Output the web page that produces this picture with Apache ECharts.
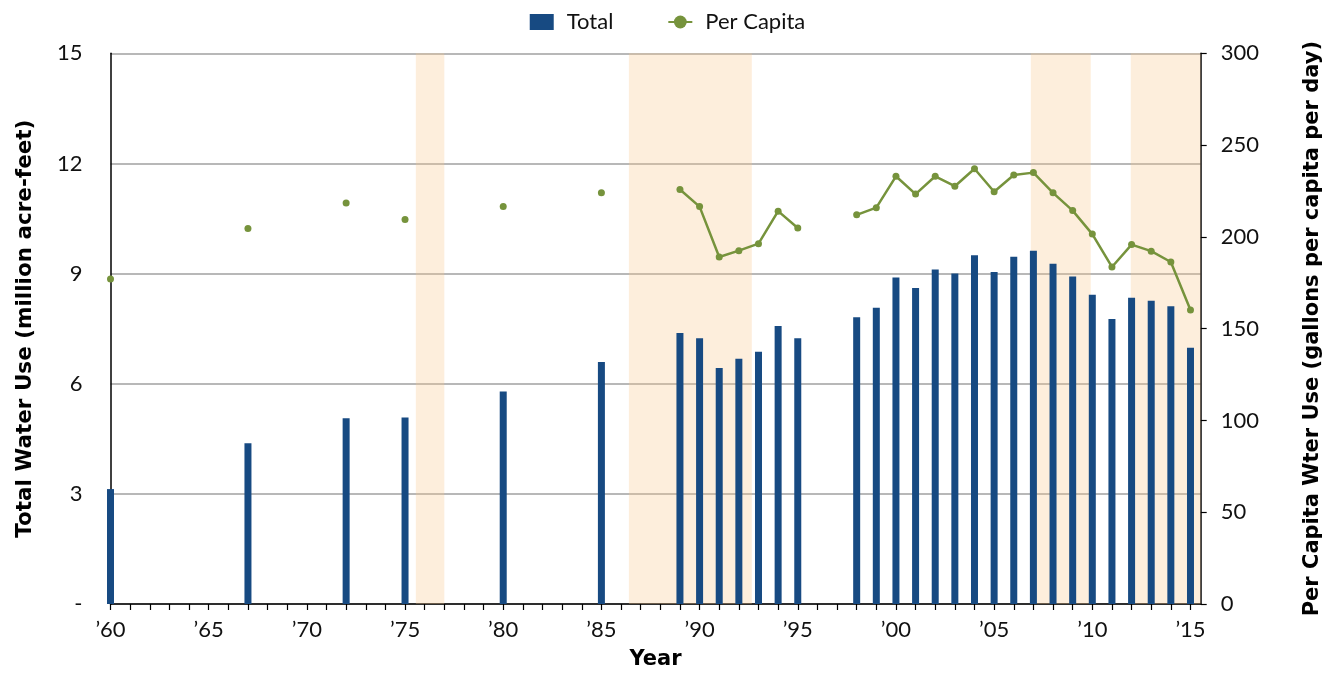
<!DOCTYPE html>
<html>
<head>
<meta charset="utf-8">
<script src="https://cdn.jsdelivr.net/npm/echarts@6/dist/echarts.min.js"></script>
<style>html,body{margin:0;padding:0;background:#fff;overflow:hidden;}#c{width:100vw;height:100vh;}</style>
</head>
<body>
<div id="c"></div>
<script>
// Years with data
const totalYears = [1960,1967,1972,1975,1980,1985,1989,1990,1991,1992,1993,1994,1995,1998,1999,2000,2001,2002,2003,2004,2005,2006,2007,2008,2009,2010,2011,2012,2013,2014,2015];
// Total water use (million acre-feet)
const totalValues = [3.13,4.38,5.06,5.08,5.79,6.59,7.38,7.24,6.43,6.68,6.87,7.57,7.24,7.81,8.07,8.89,8.61,9.11,9.00,9.50,9.04,9.46,9.62,9.27,8.92,8.42,7.76,8.34,8.26,8.11,6.98];
// Per capita water use (gallons per capita per day)
const perCapitaValues = [177,204.5,218.5,209.5,216.5,224,225.8,216.5,189,192.5,196.3,214,204.8,212,215.9,233,223.3,233,227.6,237.1,224.6,233.7,235,224,214.3,201.5,183.6,195.8,192.2,186.3,160.2];
// Drought periods (shaded)
const droughts = [[1975.55,1977],[1986.4,1992.66],[2006.87,2009.92],[2011.96,2015.52]];
const xMin = 1960, xMax = 2015.52;

const FONT = 'Lato';
const TITLE_FONT = 'DejaVu Sans';
const barData = totalYears.map((y,i)=>[y,totalValues[i]]);
const lineData = [];
for (let y = 1960; y <= 2015; y++) {
  const i = totalYears.indexOf(y);
  lineData.push(i >= 0 ? [y, perCapitaValues[i]] : [y, '-']);
}

const chart = echarts.init(document.getElementById('c'), null, {renderer:'canvas'});
chart.setOption({
  backgroundColor:'#fff',
  animation:false,
  textStyle:{fontFamily:FONT},
  legend:{
    top:6, left:'center', itemGap:54, itemWidth:24, itemHeight:16,
    textStyle:{fontFamily:FONT,fontSize:22,color:'#111',padding:[0,0,0,8]},
    data:[{name:'Total',icon:'rect'},{name:'Per Capita'}]
  },
  grid:{left:110.5,right:134.3,top:53.3,bottom:62,containLabel:false},
  xAxis:{
    type:'value', min:xMin, max:xMax, interval:1,
    name:'Year', nameLocation:'middle', nameGap:45,
    nameTextStyle:{fontFamily:TITLE_FONT,fontWeight:'bold',fontSize:21,color:'#000'},
    axisLine:{lineStyle:{color:'#000',width:1.5}},
    axisTick:{show:true,length:6,lineStyle:{color:'#000',width:1.2}},
    axisLabel:{fontFamily:FONT,fontSize:22,color:'#111',margin:15,showMaxLabel:false,
      formatter:v=> (Math.abs(v%5)<1e-6) ? '\u2019'+String(Math.round(v)).slice(2) : ''},
    splitLine:{show:false}
  },
  yAxis:[{
    type:'value', min:0, max:15, interval:3, position:'left',
    name:'Total Water Use (million acre-feet)', nameLocation:'middle', nameGap:74,
    nameTextStyle:{fontFamily:TITLE_FONT,fontWeight:'bold',fontSize:21.5,color:'#000'},
    axisLine:{show:true,lineStyle:{color:'#000',width:1.5}},
    axisTick:{show:false},
    axisLabel:{fontFamily:FONT,fontSize:22,color:'#111',margin:28,formatter:v=> v===0?'-':String(v)},
    splitLine:{show:true,lineStyle:{color:'#a0a0a0',width:1.5}}
  },{
    type:'value', min:0, max:300, interval:50, position:'right',
    name:'Per Capita Wter Use (gallons per capita per day)', nameLocation:'middle', nameGap:101,
    nameRotate:90,
    nameTextStyle:{fontFamily:TITLE_FONT,fontWeight:'bold',fontSize:21,color:'#000'},
    axisLine:{show:true,lineStyle:{color:'#000',width:1.5}},
    axisTick:{show:true,length:6,lineStyle:{color:'#000',width:1.2}},
    axisLabel:{fontFamily:FONT,fontSize:22,color:'#111',margin:20},
    splitLine:{show:false}
  }],
  series:[{
    name:'drought', type:'line', data:[], silent:true,
    markArea:{silent:true,itemStyle:{color:'rgba(249,200,140,0.3)'},
      data:droughts.map(d=>[{xAxis:d[0]},{xAxis:d[1]}])}
  },{
    name:'Total', type:'bar', yAxisIndex:0, data:barData, barWidth:7,
    itemStyle:{color:'#174a82'}, z:3
  },{
    name:'Per Capita', type:'line', yAxisIndex:1, data:lineData,
    connectNulls:false, showSymbol:true, showAllSymbol:true, symbol:'circle', symbolSize:7,
    lineStyle:{color:'#76933c',width:2.5}, itemStyle:{color:'#76933c'}, z:4
  }]
});
</script>
</body>
</html>
